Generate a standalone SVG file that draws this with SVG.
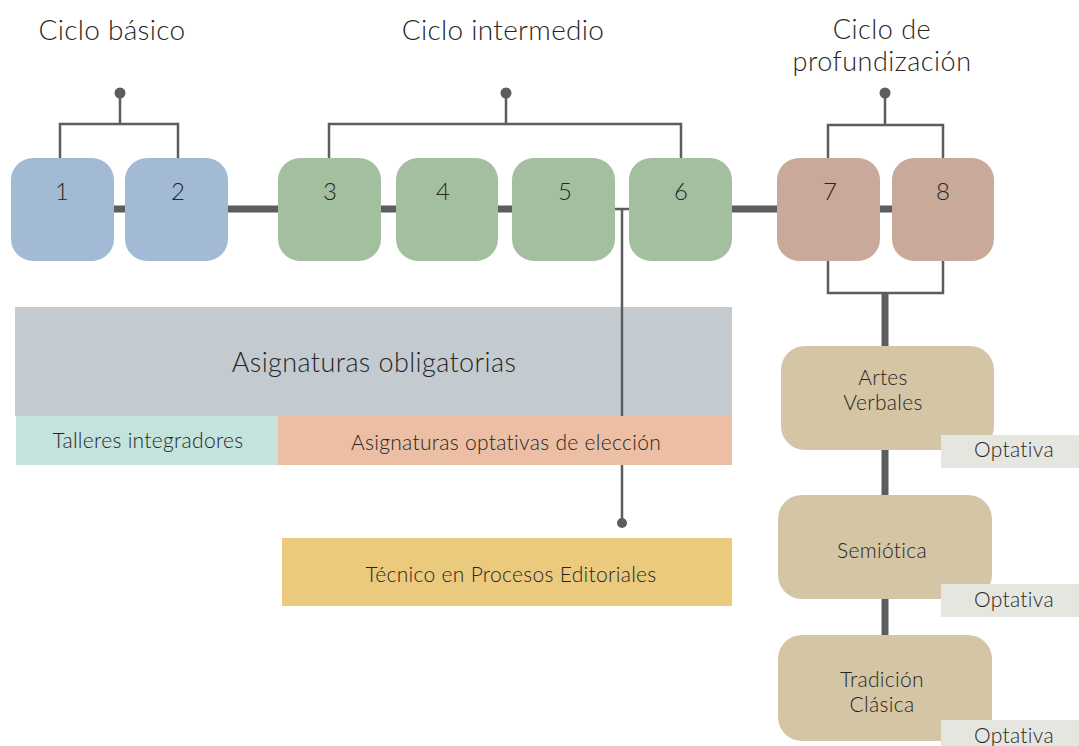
<svg xmlns="http://www.w3.org/2000/svg" width="1079" height="746" viewBox="0 0 1079 746">
<style>
text{font-family:Lato,"Open Sans","Liberation Sans",sans-serif;fill:#262626;text-anchor:middle;font-weight:300}
.t{font-size:28px;letter-spacing:0.3px}
.t2{font-size:27px;letter-spacing:0.5px}
.b{font-size:27px;letter-spacing:0.4px}
.n{font-size:24px}
.s{font-size:21px;letter-spacing:0.3px}
.thin{stroke:#5b5e5e;stroke-width:2.5;fill:none}
.thick{stroke:#5b5e5e;stroke-width:7;fill:none}
.blue{fill:#a3bad4}.green{fill:#a3bfa0}.rose{fill:#c9a99a}.tan{fill:#d4c5a5}
.opt{fill:#e6e6e0}
</style>
<rect width="1079" height="746" fill="#ffffff"/>
<g id="titles">
<text class="t" x="112" y="40">Ciclo básico</text>
<text class="t" x="503" y="40">Ciclo intermedio</text>
<text class="t2" x="882" y="39">Ciclo de</text>
<text class="t2" x="882" y="71">profundización</text>
</g>
<g id="connectors">
<path class="thick" d="M20 209H615M732 209H990"/>
<path class="thin" d="M615 209H629M622 209V523"/>
<circle cx="622" cy="523" r="5" fill="#5b5e5e"/>
<path class="thin" d="M120 93V124M60 158V124H178V158"/>
<circle cx="120" cy="93" r="5.5" fill="#5b5e5e"/>
<path class="thin" d="M506 93V124M329 158V124H681V158"/>
<circle cx="506" cy="93" r="5.5" fill="#5b5e5e"/>
<path class="thin" d="M885 93V125M828 158V125H943V158"/>
<circle cx="885" cy="93" r="5.5" fill="#5b5e5e"/>
<path class="thin" d="M828 260V293H943V260"/>
<path class="thick" d="M885 293V660"/>
</g>
<g id="n1"><rect class="blue" x="11" y="158" width="103" height="103" rx="22"/><text class="n" x="62" y="200">1</text></g>
<g id="n2"><rect class="blue" x="125" y="158" width="103" height="103" rx="22"/><text class="n" x="178" y="200">2</text></g>
<g id="n3"><rect class="green" x="278" y="158" width="103" height="103" rx="22"/><text class="n" x="330" y="200">3</text></g>
<g id="n4"><rect class="green" x="396" y="158" width="102" height="103" rx="22"/><text class="n" x="443" y="200">4</text></g>
<g id="n5"><rect class="green" x="512" y="158" width="103" height="103" rx="22"/><text class="n" x="565" y="200">5</text></g>
<g id="n6"><rect class="green" x="629" y="158" width="103" height="103" rx="22"/><text class="n" x="681" y="200">6</text></g>
<g id="n7"><rect class="rose" x="777" y="158" width="103" height="103" rx="22"/><text class="n" x="830" y="200">7</text></g>
<g id="n8"><rect class="rose" x="892" y="158" width="102" height="103" rx="22"/><text class="n" x="943" y="200">8</text></g>
<g id="obligatorias"><rect x="15" y="307" width="717" height="109" fill="#c3cad0"/><text class="b" x="374" y="372">Asignaturas obligatorias</text></g>
<path class="thin" d="M622 307V416"/>
<g id="talleres"><rect x="16" y="416" width="262" height="49" fill="#c4e3dc"/><text class="s" x="148" y="448">Talleres integradores</text></g>
<g id="optativas"><rect x="278" y="416" width="454" height="49" fill="#ecbea4"/><text class="s" x="506" y="450">Asignaturas optativas de elección</text></g>
<g id="tecnico"><rect x="282" y="538" width="450" height="68" fill="#ebca7d"/><text class="s" x="511" y="582">Técnico en Procesos Editoriales</text></g>
<g id="artes"><rect class="tan" x="781" y="346" width="213" height="104" rx="24"/><text class="s" x="883" y="385">Artes</text><text class="s" x="883" y="410">Verbales</text>
<rect class="opt" x="941" y="435" width="138" height="33"/><text class="s" x="1014" y="457">Optativa</text></g>
<g id="semiotica"><rect class="tan" x="778" y="495" width="214" height="104" rx="24"/><text class="s" x="882" y="558">Semiótica</text>
<rect class="opt" x="941" y="584" width="138" height="33"/><text class="s" x="1014" y="607">Optativa</text></g>
<g id="tradicion"><rect class="tan" x="778" y="635" width="214" height="106" rx="24"/><text class="s" x="882" y="687">Tradición</text><text class="s" x="882" y="712">Clásica</text>
<rect class="opt" x="941" y="720" width="138" height="40"/><text class="s" x="1014" y="743">Optativa</text></g>
</svg>
